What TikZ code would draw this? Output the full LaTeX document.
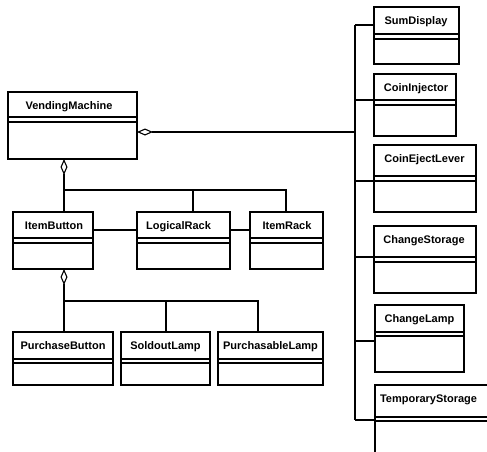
\documentclass[tikz,border=0pt]{standalone}
\usepackage{fontspec}
\setmainfont{Liberation Sans}
\usetikzlibrary{arrows.meta}

% class box: name, left, top, right, bottom, first rule, second rule, label, label x
\newcommand\umlclass[9]{%
  \node[classbox, anchor=north west, minimum width={#4-#2}, minimum height={#5-#3}] (#1) at (#2,#3) {};
  \draw[rule] (#2,#6) -- (#4,#6) (#2,#7) -- (#4,#7);
  \node[classname] (#1-name) at ({#9},{#3+17.5}) {#8};
}

\tikzset{
  x=1pt, y=-1pt,
  classbox/.style={draw, line width=1.1pt, inner sep=0pt, outer sep=0pt},
  rule/.style={line width=1.1pt},
  classname/.style={font=\fontsize{11}{13}\selectfont\bfseries, inner sep=0pt, anchor=base},
  link/.style={line width=1.1pt},
  aggr/.style={line width=1.1pt, {Diamond[open, length=16pt, width=7pt, line width=1.1pt]}-},
}

\begin{document}
\begin{tikzpicture}
\useasboundingbox (0,0) rectangle (487,451);
\clip (0,0) rectangle (487,451);

% left-hand classes
\umlclass{vm}{8}{92}{137}{159}{117}{122}{VendingMachine}{69}
\umlclass{ib}{13}{212}{93}{269}{238}{243}{ItemButton}{54}
\umlclass{lr}{137}{212}{230}{269}{238}{243}{LogicalRack}{178.5}
\umlclass{ir}{250}{212}{323}{269}{238}{243}{ItemRack}{287}
\umlclass{pb}{13}{332}{113}{385}{359}{363}{PurchaseButton}{63}
\umlclass{sl}{121}{332}{210}{385}{359}{363}{SoldoutLamp}{165.5}
\umlclass{pl}{218}{332}{323}{385}{359}{363}{PurchasableLamp}{270.5}

% right-hand column
\umlclass{sd}{374}{7}{459}{64}{34}{39}{SumDisplay}{416}
\umlclass{ci}{374}{74}{456}{136}{100}{105}{CoinInjector}{416}
\umlclass{cel}{374}{145}{476}{212}{176}{181}{CoinEjectLever}{424.5}
\umlclass{cs}{374}{226}{476}{293}{257}{262}{ChangeStorage}{424}
\umlclass{cl}{375}{305}{464}{372}{332}{336}{ChangeLamp}{419.5}
\umlclass{ts}{375}{385}{497}{470}{417}{421}{TemporaryStorage}{428.5}

% connection points
\coordinate (vmR) at (137,132);
\coordinate (busVM) at (355,132);
\coordinate (busTop) at (355,25);
\coordinate (busBot) at (355,420);
\coordinate (vmB) at (64,159);
\coordinate (ibT) at (64,212);
\coordinate (tree1) at (64,190);
\coordinate (lrT) at (193,212);
\coordinate (irT) at (286,212);
\coordinate (ibB) at (64,269);
\coordinate (pbT) at (64,332);
\coordinate (tree2) at (64,301);
\coordinate (slT) at (166,332);
\coordinate (plT) at (258,332);

% aggregation from VendingMachine to the right-hand column
\draw[aggr] (vmR) -- (busVM);
\draw[link] (busTop) -- (busBot);
\draw[link] (busTop) -- (sd.west |- busTop);
\draw[link] (355,100) -- (ci.west |- 0,100);
\draw[link] (355,181) -- (cel.west |- 0,181);
\draw[link] (355,257) -- (cs.west |- 0,257);
\draw[link] (355,341) -- (cl.west |- 0,341);
\draw[link] (busBot) -- (ts.west |- busBot);

% aggregation from VendingMachine to the racks and buttons
\draw[aggr] (vmB) -- (ibT);
\draw[link] (tree1) -| (irT);
\draw[link] (tree1 -| lrT) -- (lrT);

% associations between the racks
\draw[link] (ib.east |- 0,230) -- (lr.west |- 0,230);
\draw[link] (lr.east |- 0,230) -- (ir.west |- 0,230);

% aggregation from ItemButton to the lamps and button
\draw[aggr] (ibB) -- (pbT);
\draw[link] (tree2) -| (plT);
\draw[link] (tree2 -| slT) -- (slT);
\end{tikzpicture}
\end{document}
